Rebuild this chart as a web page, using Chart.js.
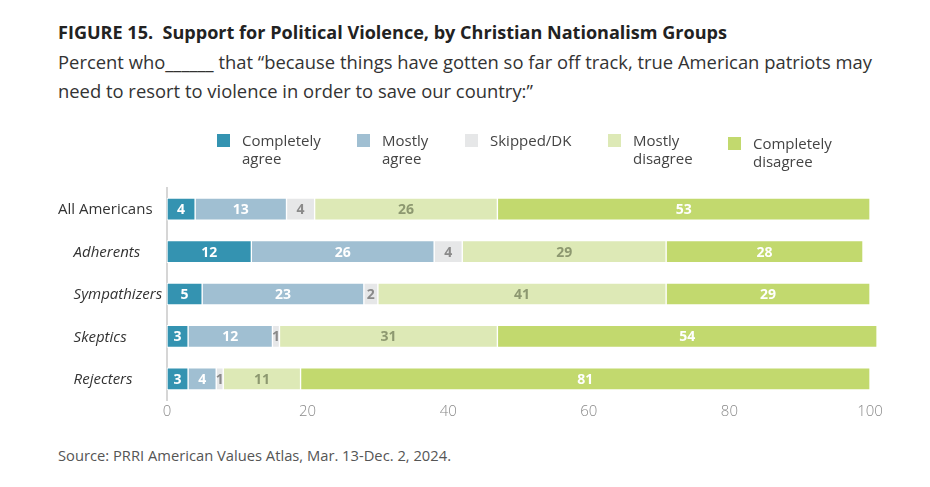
<!DOCTYPE html>
<html>
<head>
<meta charset="utf-8">
<script src="https://cdn.jsdelivr.net/npm/chart.js@4/dist/chart.umd.min.js"></script>
<style>
  html, body { margin: 0; padding: 0; background: #fff; }
  body { width: 930px; height: 487px; position: relative; overflow: hidden; font-family: "Open Sans", sans-serif; }
  #wrap { position: absolute; left: 0; top: 0; width: 930px; height: 487px; }
  .txt { position: absolute; left: 58px; white-space: nowrap; transform-origin: 0 50%; }
  #title { top: 21px; font-size: 17px; font-weight: 700; color: #222; }
  #sub1 { top: 50px; font-size: 18px; color: #333; }
  #sub2 { top: 79px; font-size: 18px; color: #333; }
  #source { top: 446px; font-size: 14px; color: #555; }
</style>
</head>
<body>
<div id="title" class="txt">FIGURE 15.&nbsp; Support for Political Violence, by Christian Nationalism Groups</div>
<div id="sub1" class="txt">Percent who______ that “because things have gotten so far off track, true American patriots may</div>
<div id="sub2" class="txt">need to resort to violence in order to save our country:”</div>
<div id="source" class="txt">Source: PRRI American Values Atlas, Mar. 13-Dec. 2, 2024.</div>
<div id="wrap"><canvas id="chart" width="930" height="487"></canvas></div>
<script>
const categories = ['All Americans', 'Adherents', 'Sympathizers', 'Skeptics', 'Rejecters'];
const completelyAgree = [4, 12, 5, 3, 3];
const mostlyAgree = [13, 26, 23, 12, 4];
const skippedDK = [4, 4, 2, 1, 1];
const mostlyDisagree = [26, 29, 41, 31, 11];
const completelyDisagree = [53, 28, 29, 54, 81];
const seriesNames = [['Completely', 'agree'], ['Mostly', 'agree'], ['Skipped/DK'], ['Mostly', 'disagree'], ['Completely', 'disagree']];
const xTicks = [0, 20, 40, 60, 80, 100];

const colors = ['#3493b1', '#a0bfd2', '#e6e7e8', '#dde9b6', '#c2d96e'];
const labelColors = ['#ffffff', '#ffffff', '#8a8a8a', '#8d9870', '#ffffff'];

// squeeze the condensed-looking headline text to its original width
function fitWidth(id, w) {
    const el = document.getElementById(id);
    const s = w / el.getBoundingClientRect().width;
    el.style.transform = 'scaleX(' + s + ')';
    return s;
}
fitWidth('title', 669);
const subScale = fitWidth('sub1', 814);
document.getElementById('sub2').style.transform = 'scaleX(' + subScale + ')';
fitWidth('source', 393);

const valueLabels = {
    id: 'valueLabels',
    afterDatasetsDraw(chart) {
        const ctx = chart.ctx;
        ctx.save();
        ctx.font = 'bold 14px "Open Sans"';
        ctx.textAlign = 'center';
        ctx.textBaseline = 'middle';
        chart.data.datasets.forEach((ds, i) => {
            chart.getDatasetMeta(i).data.forEach((bar, j) => {
                ctx.fillStyle = labelColors[i];
                ctx.fillText(ds.data[j], (bar.x + bar.base) / 2, bar.y + 1);
            });
        });
        ctx.restore();
    }
};

const legendBoxes = {
    id: 'legendBoxes',
    afterDraw(chart) {
        const ctx = chart.ctx;
        const xs = [217, 357, 465, 608, 728];
        ctx.save();
        ctx.font = '15px "Open Sans"';
        ctx.textBaseline = 'middle';
        ctx.textAlign = 'left';
        seriesNames.forEach((lines, i) => {
            const dy = i === 4 ? 3 : 0;
            ctx.fillStyle = colors[i];
            ctx.fillRect(xs[i], 134 + dy, 13, 13);
            ctx.fillStyle = '#444';
            lines.forEach((t, k) => ctx.fillText(t, xs[i] + 25, 142 + dy + k * 18));
        });
        ctx.restore();
    }
};

const series = [completelyAgree, mostlyAgree, skippedDK, mostlyDisagree, completelyDisagree];

new Chart(document.getElementById('chart'), {
    type: 'bar',
    data: {
        labels: categories,
        datasets: series.map((d, i) => ({
            label: seriesNames[i].join(' '),
            data: d,
            backgroundColor: colors[i],
            borderColor: '#ffffff',
            borderWidth: 1,
            borderSkipped: false,
            barThickness: 22,
            clip: false
        }))
    },
    options: {
        indexAxis: 'y',
        responsive: false,
        animation: false,
        layout: { padding: { left: 58, right: 60, top: 188, bottom: 62 } },
        plugins: {
            legend: { display: false },
            tooltip: { enabled: false }
        },
        scales: {
            x: {
                stacked: true,
                min: 0,
                max: 100,
                afterBuildTicks(scale) { scale.ticks = xTicks.map(v => ({ value: v })); },
                afterFit(scale) { scale.height = 25; },
                grid: { display: false, drawTicks: false },
                border: { display: false },
                ticks: { padding: 3, color: '#8a8a8a', font: { family: 'Open Sans', size: 15, weight: 300 } }
            },
            y: {
                stacked: true,
                afterFit(scale) { scale.width = 109; },
                grid: { display: false, drawTicks: false },
                border: { display: true, color: '#d6d6d6', width: 2 },
                ticks: {
                    crossAlign: 'far',
                    labelOffset: 1,
                    color: '#333',
                    callback: (v, i) => (i > 0 ? '    ' : '') + categories[i],
                    font: (c) => ({ family: 'Open Sans', size: 15, style: c.index > 0 ? 'italic' : 'normal' })
                }
            }
        }
    },
    plugins: [valueLabels, legendBoxes]
});
</script>
</body>
</html>
